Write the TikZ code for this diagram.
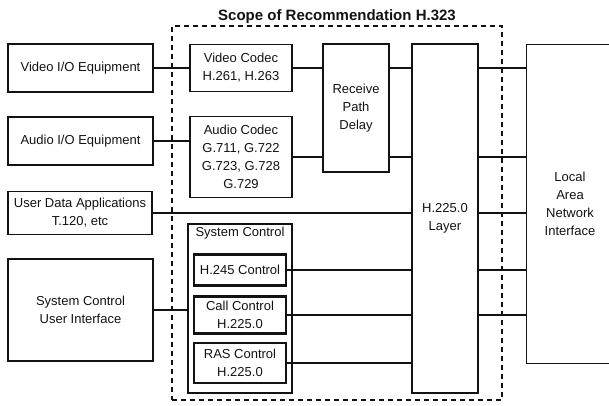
\documentclass[tikz,border=0pt]{standalone}
\usepackage{fontspec}
\setmainfont{Liberation Sans}
\usepackage{tikz}
\usetikzlibrary{positioning}
\definecolor{ink}{RGB}{18,18,18}

\tikzset{
  blk/.style={draw=ink,line width=1.4pt,inner sep=0pt,align=center,
    text=ink,font=\fontsize{13}{18}\selectfont},
  thickblk/.style={blk,line width=2.4pt},
  wire/.style={draw=ink,line width=2pt},
  scopebox/.style={draw=ink,line width=1.1pt,dash pattern=on 5pt off 4pt,
    inner sep=0pt}
}

\begin{document}
\begin{tikzpicture}[x=1pt,y=-1pt]
  \useasboundingbox (0,0) rectangle (609,405);

  % scope of the recommendation
  \node[scopebox,minimum width=330pt,minimum height=374pt,
    label={[anchor=south,inner sep=1.5pt,text=ink,
      font=\fontsize{15}{18}\selectfont\bfseries]north:Scope of Recommendation H.323}]
    (scope) at (337,213) {};

  % terminal equipment
  \node[blk,minimum width=145pt,minimum height=48pt] (vio) at (80.5,68) {Video I/O Equipment};
  \node[blk,minimum width=145pt,minimum height=48pt] (aio) at (80.5,141) {Audio I/O Equipment};
  \node[blk,minimum width=144pt,minimum height=43pt] (uda) at (80,213) 
    {User Data Applications\\T.120, etc};
  \node[blk,minimum width=145pt,minimum height=102pt] (ui) at (80.5,310)
    {System Control\\User Interface};

  % codecs and delay
  \node[blk,minimum width=102pt,minimum height=47pt] (vcodec) at (241,68)
    {Video Codec\\H.261, H.263};
  \node[blk,minimum width=102pt,minimum height=81pt] (acodec) at (241,157)
    {Audio Codec\\G.711, G.722\\G.723, G.728\\G.729};
  \node[blk,minimum width=66pt,minimum height=128pt] (rpd) at (356,108)
    {Receive\\Path\\Delay};

  % system control
  \node[blk,minimum width=104pt,minimum height=169pt,
    label={[anchor=north,inner sep=4pt,text=ink,
      font=\fontsize{13}{18}\selectfont]north:System Control}]
    (sysctl) at (240,308.5) {};
  \node[thickblk,minimum width=92pt,minimum height=31pt] (h245) at (240,270)
    {H.245 Control};
  \node[thickblk,minimum width=92pt,minimum height=37pt] (callc) at (240,315)
    {Call Control\\H.225.0};
  \node[thickblk,minimum width=92pt,minimum height=40pt] (rasc) at (240,363)
    {RAS Control\\H.225.0};

  % layer and network
  \node[thickblk,minimum width=66pt,minimum height=349pt] (layer) at (445,218.5)
    {H.225.0\\Layer};
  \node[blk,draw=none,minimum width=86pt,minimum height=318pt] (lan) at (570,204)
    {Local\\Area\\Network\\Interface};
  \draw[ink,line width=1.4pt] (lan.north east) -- (lan.north west)
    -- (lan.south west) -- (lan.south east);

  % connections
  \draw[wire] (vio.east) -- (vio.east -| vcodec.west);
  \draw[wire] (aio.east) -- (aio.east -| acodec.west);
  \draw[wire] (ui.east) -- (ui.east -| sysctl.west);
  \draw[wire] (vcodec.east) -- (vcodec.east -| rpd.west);
  \draw[wire] (acodec.east) -- (acodec.east -| rpd.west);
  \draw[wire] (rpd.east |- vcodec.east) -- (vcodec.east -| layer.west);
  \draw[wire] (rpd.east |- acodec.east) -- (acodec.east -| layer.west);
  \draw[wire] (uda.east) -- (uda.east -| layer.west);
  \draw[wire] (h245.east) -- (h245.east -| layer.west);
  \draw[wire] (callc.east) -- (callc.east -| layer.west);
  \draw[wire] (rasc.east) -- (rasc.east -| layer.west);
  \draw[wire] (layer.east |- vcodec.east) -- (vcodec.east -| lan.west);
  \draw[wire] (layer.east |- acodec.east) -- (acodec.east -| lan.west);
  \draw[wire] (layer.east |- uda.east) -- (uda.east -| lan.west);
  \draw[wire] (layer.east |- h245.east) -- (h245.east -| lan.west);
  \draw[wire] (layer.east |- callc.east) -- (callc.east -| lan.west);
\end{tikzpicture}
\end{document}
